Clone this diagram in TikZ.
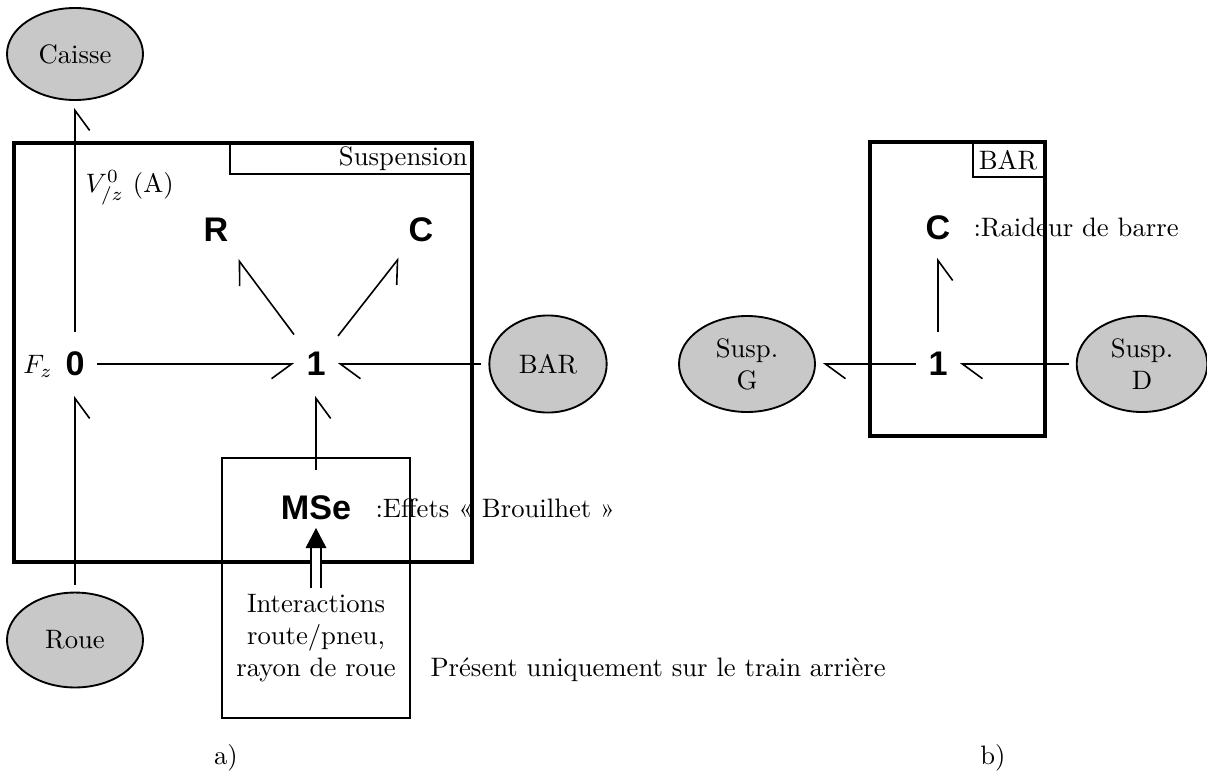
\documentclass[tikz,border=0pt]{standalone}
\usepackage{fontspec}
\newfontfamily\hv{Liberation Sans}
\usetikzlibrary{arrows.meta,shapes.geometric,calc}
\definecolor{ellgray}{RGB}{200,200,200}
\begin{document}
\begin{tikzpicture}[x=0.375pt,y=-0.375pt,
  ell/.style={ellipse, draw, line width=0.7pt, fill=ellgray, inner sep=0pt, outer sep=3pt, align=center},
  bg/.style={font={\hv\bfseries\fontsize{12.8}{14}\selectfont}, inner sep=0pt, outer sep=0pt, minimum width=16.5pt, minimum height=24pt},
  bond/.style={line width=0.6pt},
  hl/.style={bond, -{Straight Barb[harpoon, length=7.5pt, width=11pt]}},
  hr/.style={bond, -{Straight Barb[harpoon, swap, length=7.5pt, width=11pt]}},
  frame/.style={line width=1.8pt},
  thinbox/.style={line width=0.75pt},
  lbl/.style={inner sep=0pt},
  sig/.style={line width=0.55pt, double distance=3.2pt}
]
\useasboundingbox (0,0) rectangle (1207,778);

% frames a)
\draw[thinbox] (230,143) rectangle (472,174);
\draw[frame] (14,143) rectangle (472,562);
\draw[thinbox] (222,458) rectangle (410,718);
\node[lbl, anchor=east] (susplbl) at (468,159) {Suspension};

% frames b)
\draw[thinbox] (973,142) rectangle (1045,177);
\draw[frame] (870,142) rectangle (1045,436);
\node[lbl] (barlbl) at (1008,160) {BAR};

% ellipses
\node[ell, minimum width=51pt, minimum height=34.5pt] (caisse) at (75,54) {Caisse};
\node[ell, minimum width=51pt, minimum height=35.6pt] (roue) at (75,640) {Roue};
\node[ell, minimum width=44pt, minimum height=36.4pt] (bar) at (548,364) {BAR};
\node[ell, minimum width=51pt, minimum height=36pt] (g) at (747,364) {Susp.\\G};
\node[ell, minimum width=49pt, minimum height=36pt] (d) at (1142,364) {Susp.\\D};

% bond graph elements
\node[bg] (n0) at (75,364) {0};
\node[bg] (n1) at (316,364) {1};
\node[bg, minimum height=22.5pt] (r) at (216,230) {R};
\node[bg, minimum height=22.5pt] (c) at (421,230) {C};
\node[bg, minimum height=15pt] (mse) at (316,508) {MSe};
\node[bg] (b1) at (938,364) {1};
\node[bg, minimum height=22.5pt] (bc) at (938,228) {C};

% bonds a)
\draw[hr] (n0) -- (caisse);
\draw[hr] (n0) -- (n1);
\draw[hl] (bar) -- (n1);
\draw[hr] (roue) -- (n0);
\draw[hl] (n1) -- (r);
\draw[hr] (n1) -- (c);
\draw[hr, shorten <=6.75pt] (mse) -- (n1);

% bonds b)
\draw[hr] (b1) -- (bc);
\draw[hl] (b1) -- (g);
\draw[hl] (d) -- (b1);

% signal
\node[align=center, inner sep=2pt] (inter) at (316,638) {Interactions\\route/pneu,\\rayon de roue};
\draw[sig] (inter.north) -- ($(mse.south)+(0,19)$);
\fill (mse.south) -- ++(-10.5,20) -- ++(21,0) -- cycle;

% labels
\node[lbl, anchor=west] (vlbl) at (85,188) {$V^0_{/z}$ (A)};
\node[lbl] (fz) at (38,366) {$F_z$};
\node[lbl, anchor=west] (eff) at (375,508) {:Effets « Brouilhet »};
\node[lbl, anchor=west] (raid) at (973,228) {:Raideur de barre};
\node[lbl, anchor=west] (pres) at (430,670) {Présent uniquement sur le train arrière};
\node[lbl] (la) at (226,758) {a)};
\node[lbl] (lb) at (993,758) {b)};
\end{tikzpicture}
\end{document}
